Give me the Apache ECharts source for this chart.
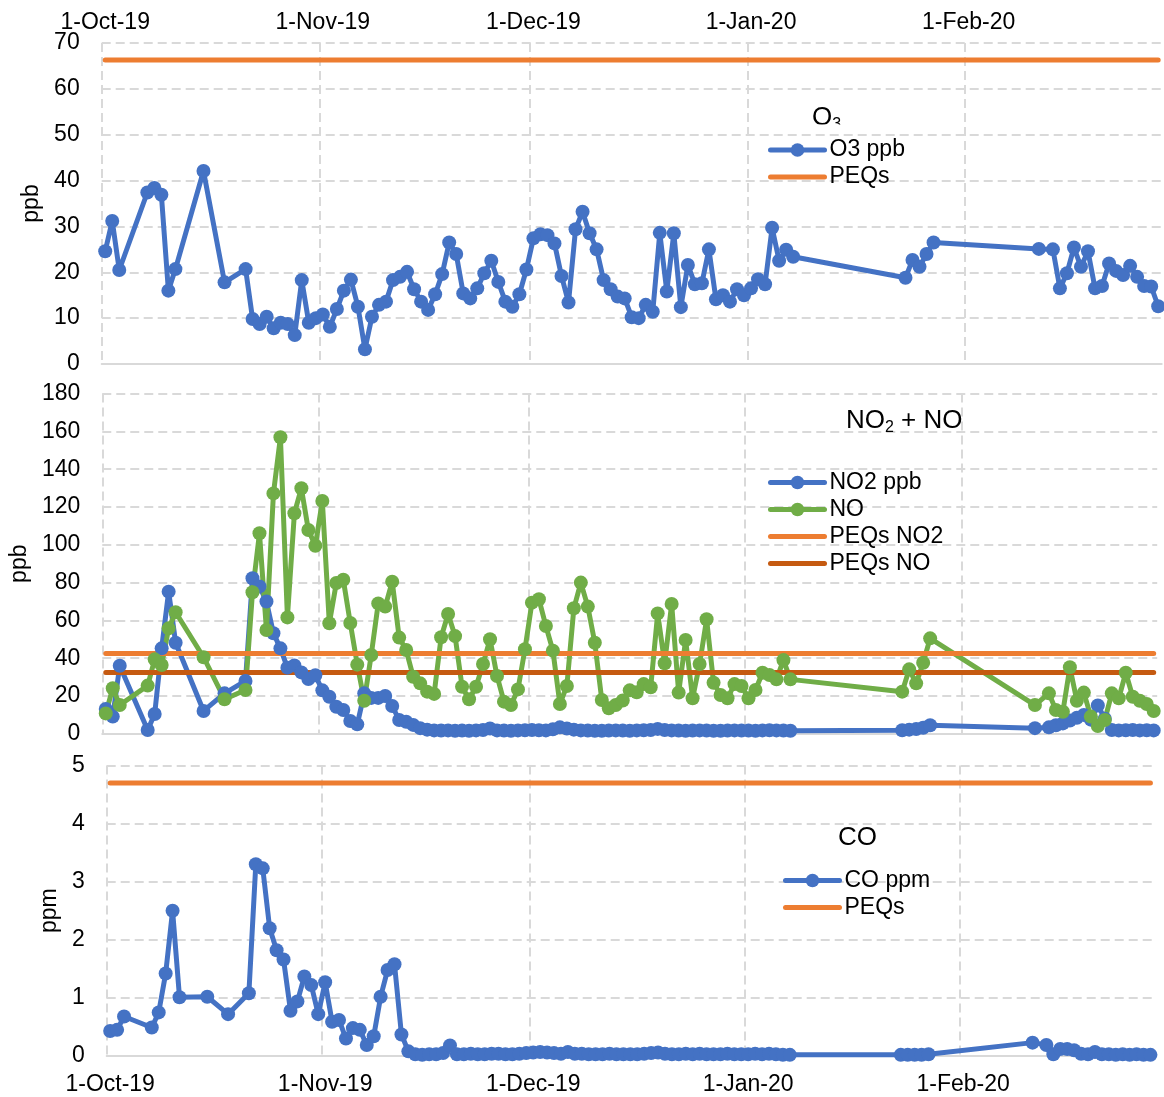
<!DOCTYPE html>
<html>
<head>
<meta charset="utf-8">
<script src="https://cdn.jsdelivr.net/npm/echarts@6/dist/echarts.min.js"></script>
<style>
  html, body { margin: 0; padding: 0; background: #ffffff; }
  #chart { width: 1164px; height: 1097px; }
</style>
</head>
<body>
<div id="chart"></div>
<script>
// Sampling days (daily averages)
const dates = [
  '2019-10-01','2019-10-02','2019-10-03','2019-10-07','2019-10-08','2019-10-09','2019-10-10','2019-10-11','2019-10-15','2019-10-18',
  '2019-10-21','2019-10-22','2019-10-23','2019-10-24','2019-10-25','2019-10-26','2019-10-27','2019-10-28','2019-10-29','2019-10-30','2019-10-31',
  '2019-11-01','2019-11-02','2019-11-03','2019-11-04','2019-11-05','2019-11-06','2019-11-07','2019-11-08','2019-11-09','2019-11-10',
  '2019-11-11','2019-11-12','2019-11-13','2019-11-14','2019-11-15','2019-11-16','2019-11-17','2019-11-18','2019-11-19','2019-11-20',
  '2019-11-21','2019-11-22','2019-11-23','2019-11-24','2019-11-25','2019-11-26','2019-11-27','2019-11-28','2019-11-29','2019-11-30',
  '2019-12-01','2019-12-02','2019-12-03','2019-12-04','2019-12-05','2019-12-06','2019-12-07','2019-12-08','2019-12-09','2019-12-10',
  '2019-12-11','2019-12-12','2019-12-13','2019-12-14','2019-12-15','2019-12-16','2019-12-17','2019-12-18','2019-12-19','2019-12-20',
  '2019-12-21','2019-12-22','2019-12-23','2019-12-24','2019-12-25','2019-12-26','2019-12-27','2019-12-28','2019-12-29','2019-12-30','2019-12-31',
  '2020-01-01','2020-01-02','2020-01-03','2020-01-04','2020-01-05','2020-01-06','2020-01-07',
  '2020-01-23','2020-01-24','2020-01-25','2020-01-26','2020-01-27',
  '2020-02-11','2020-02-13','2020-02-14','2020-02-15','2020-02-16','2020-02-17','2020-02-18','2020-02-19','2020-02-20',
  '2020-02-21','2020-02-22','2020-02-23','2020-02-24','2020-02-25','2020-02-26','2020-02-27','2020-02-28'
];

// O3, ppb
const o3 = [
  24.6, 31.2, 20.5, 37.4, 38.4, 36.9, 16.0, 20.7, 42.1, 17.8,
  20.7, 9.8, 8.7, 10.3, 7.8, 9.0, 8.7, 6.3, 18.3, 9.0, 10.0,
  10.8, 8.1, 12.0, 16.0, 18.4, 12.5, 3.2, 10.3, 12.9, 13.6,
  18.3, 19.0, 20.1, 16.3, 13.6, 11.8, 15.2, 19.6, 26.5, 24.0,
  15.4, 14.3, 16.5, 19.8, 22.5, 17.9, 13.6, 12.5, 15.2, 20.6,
  27.4, 28.3, 28.1, 26.3, 19.2, 13.4, 29.4, 33.2, 28.5, 25.0,
  18.3, 16.3, 14.7, 14.3, 10.2, 10.0, 12.9, 11.4, 28.6, 15.8,
  28.5, 12.4, 21.6, 17.4, 17.6, 25.0, 14.1, 15.0, 13.6, 16.3, 15.0,
  16.5, 18.5, 17.4, 29.7, 22.5, 24.9, 23.4,
  18.8, 22.7, 21.2, 24.0, 26.5,
  25.1, 25.0, 16.5, 19.8, 25.4, 21.2, 24.6, 16.5, 17.0,
  21.9, 20.3, 19.4, 21.4, 19.0, 17.0, 16.9, 12.6
];

// NO2, ppb
const no2 = [
  13.1, 9.1, 36.0, 2.0, 10.5, 45.2, 75.2, 48.2, 12.1, 21.4,
  28.0, 82.3, 78.0, 70.0, 53.2, 45.2, 35.0, 36.2, 32.5, 29.0, 31.0,
  23.0, 19.6, 14.3, 12.6, 6.8, 5.0, 21.4, 19.0, 19.0, 20.0,
  14.7, 7.3, 6.4, 4.7, 3.0, 2.2, 1.8, 1.7, 1.8, 1.6,
  1.7, 1.6, 1.8, 2.0, 2.8, 1.8, 1.7, 1.6, 1.8, 1.9,
  2.0, 1.9, 1.8, 2.4, 3.4, 2.8, 2.2, 1.8, 1.7, 1.6,
  1.6, 1.7, 1.8, 1.7, 1.6, 1.8, 1.9, 2.0, 2.6, 2.0,
  1.8, 1.7, 1.6, 1.7, 1.8, 1.7, 1.6, 1.6, 1.7, 1.8, 1.7,
  1.7, 1.6, 1.8, 1.9, 1.8, 1.7, 1.6,
  1.9, 2.2, 2.5, 3.2, 4.5,
  3.0, 3.4, 4.5, 5.5, 7.0, 8.5, 10.0, 7.5, 15.0,
  8.0, 2.0, 1.8, 1.9, 2.0, 1.8, 1.9, 1.8
];

// NO, ppb
const no = [
  10.8, 24.1, 15.2, 25.5, 39.4, 36.4, 55.8, 64.3, 40.5, 18.3,
  23.2, 74.9, 106.1, 54.9, 127.2, 156.9, 61.6, 116.7, 129.9, 107.8, 99.5,
  123.2, 58.5, 79.8, 81.5, 58.6, 36.6, 17.5, 41.7, 69.0, 67.3,
  80.5, 50.9, 44.3, 30.2, 26.7, 22.3, 21.1, 51.1, 63.4, 51.7,
  24.9, 18.3, 24.9, 36.9, 50.0, 30.6, 17.0, 15.2, 23.5, 44.7,
  69.4, 71.2, 57.0, 44.0, 15.8, 25.3, 66.4, 80.0, 67.3, 48.2,
  17.9, 13.5, 15.2, 17.6, 23.0, 22.0, 26.3, 24.6, 63.7, 37.3,
  68.7, 21.8, 49.6, 18.8, 36.9, 60.6, 27.0, 20.5, 18.8, 26.3, 25.3,
  18.8, 23.2, 32.3, 31.1, 28.8, 39.0, 28.8,
  22.3, 34.1, 26.7, 37.6, 50.5,
  15.2, 21.4, 12.6, 11.7, 35.2, 17.5, 21.8, 9.1, 4.1,
  7.3, 21.4, 18.8, 32.3, 19.6, 17.5, 15.8, 12.1
];

// CO, ppm
const co = [
  0.43, 0.45, 0.68, 0.49, 0.75, 1.42, 2.50, 1.01, 1.02, 0.72,
  1.08, 3.30, 3.23, 2.20, 1.82, 1.66, 0.78, 0.94, 1.37, 1.22, 0.72,
  1.27, 0.59, 0.62, 0.30, 0.48, 0.45, 0.19, 0.34, 1.02, 1.48,
  1.58, 0.37, 0.08, 0.03, 0.02, 0.03, 0.03, 0.05, 0.18, 0.03,
  0.03, 0.04, 0.03, 0.03, 0.04, 0.04, 0.03, 0.03, 0.04, 0.05,
  0.06, 0.07, 0.06, 0.05, 0.04, 0.07, 0.04, 0.04, 0.03, 0.03,
  0.03, 0.04, 0.03, 0.03, 0.03, 0.03, 0.04, 0.05, 0.06, 0.04,
  0.03, 0.03, 0.04, 0.03, 0.04, 0.03, 0.03, 0.03, 0.04, 0.03, 0.03,
  0.03, 0.04, 0.03, 0.04, 0.03, 0.02, 0.02,
  0.02, 0.02, 0.02, 0.02, 0.03,
  0.23, 0.19, 0.03, 0.12, 0.12, 0.10, 0.04, 0.03, 0.07,
  0.03, 0.03, 0.02, 0.03, 0.02, 0.03, 0.02, 0.02
];

// Air quality standards (PEQs)
const peqO3 = 66.3;
const peqNO2 = 42.5;
const peqNO = 32.5;
const peqCO = 4.7;

// Date axis
const tickDates = ['2019-10-01', '2019-11-01', '2019-12-01', '2020-01-01', '2020-02-01'];
const tickLabels = ['1-Oct-19', '1-Nov-19', '1-Dec-19', '1-Jan-20', '1-Feb-20'];
const axisStart = '2019-10-01';
const axisEnd = '2020-02-29';

// days elapsed since the start of the axis
function dayNum(s) {
  const p = s.split('-').map(Number);
  const a = axisStart.split('-').map(Number);
  return Math.round((Date.UTC(p[0], p[1] - 1, p[2]) - Date.UTC(a[0], a[1] - 1, a[2])) / 86400000);
}
const tickDays = tickDates.map(dayNum);
const labelDays = tickDays.map(d => d + 0.5);
const xMin = dayNum(axisStart);
const xMax = dayNum(axisEnd);

// each daily value sits in the middle of its day
const pts = vals => dates.map((d, i) => [dayNum(d) + 0.5, vals[i]]);
const flat = v => dates.map(d => [dayNum(d) + 0.5, v]);

const BLUE = '#4472C4', GREEN = '#70AD47', ORANGE = '#ED7D31', DARK_ORANGE = '#C55A11';
const GRID_COLOR = '#d9d9d9';
const FONT = "'Liberation Sans', Arial, sans-serif";

const dashed = { show: true, lineStyle: { type: [9, 5], color: GRID_COLOR, width: 2 } };
const labelFmt = v => {
  const i = labelDays.findIndex(t => Math.abs(t - v) < 0.01);
  return i >= 0 ? tickLabels[i] : '';
};

function xAxis(gridIndex, extra) {
  return Object.assign({
    type: 'value', gridIndex, min: xMin, max: xMax,
    axisLine: { show: true, onZero: false, lineStyle: { color: GRID_COLOR, width: 2 } },
    axisTick: { show: false, customValues: tickDays },
    axisLabel: { show: false },
    splitLine: dashed
  }, extra || {});
}

function yAxis(gridIndex, max, interval, name, nameGap) {
  return {
    type: 'value', gridIndex, min: 0, max, interval,
    axisLine: { show: false }, axisTick: { show: false },
    axisLabel: { fontSize: 23, color: '#000', margin: 22, fontFamily: FONT },
    splitLine: Object.assign({ showMinLine: false }, dashed),
    name, nameLocation: 'middle', nameGap,
    nameTextStyle: { fontSize: 23, color: '#000', fontFamily: FONT }
  };
}

const pointSeries = (name, data, color, xi, yi) => ({
  name, type: 'line', xAxisIndex: xi, yAxisIndex: yi, data,
  symbol: 'circle', symbolSize: 14, showSymbol: true,
  color, itemStyle: { color },
  lineStyle: { width: 5, color, cap: 'round', join: 'round' },
  emphasis: { disabled: true }
});
const limitSeries = (name, value, color, xi, yi) => ({
  name, type: 'line', xAxisIndex: xi, yAxisIndex: yi, data: flat(value),
  symbol: 'none', color, itemStyle: { color },
  lineStyle: { width: 5, color, cap: 'round' },
  emphasis: { disabled: true }
});

const legendBase = {
  orient: 'vertical', itemWidth: 54, itemHeight: 17, itemGap: 4, padding: 0,
  lineStyle: { width: 5, cap: 'round' },
  textStyle: { fontSize: 23, color: '#000', fontFamily: FONT }, selectedMode: false
};
const richTitle = {
  a: { fontSize: 26, color: '#000', fontFamily: FONT, fontWeight: 'normal', lineHeight: 30 },
  s: { fontSize: 16, color: '#000', fontFamily: FONT, fontWeight: 'normal', lineHeight: 16, verticalAlign: 'bottom' }
};

const option = {
  animation: false,
  backgroundColor: '#ffffff',
  textStyle: { fontFamily: FONT },
  title: [
    { text: '{a|O}{s|3}', left: 812, top: 103, padding: 0, textStyle: { rich: richTitle } },
    { text: '{a|NO}{s|2}{a| + NO}', left: 846, top: 406, padding: 0, textStyle: { rich: richTitle } },
    { text: '{a|CO}', left: 838, top: 823, padding: 0, textStyle: { rich: richTitle } }
  ],
  legend: [
    Object.assign({ left: 768, top: 138.5, data: [{ name: 'O3 ppb' }, { name: 'PEQs', itemStyle: { opacity: 0 } }] }, legendBase),
    Object.assign({ left: 768, top: 471, data: [{ name: 'NO2 ppb' }, { name: 'NO' },
      { name: 'PEQs NO2', itemStyle: { opacity: 0 } }, { name: 'PEQs NO', itemStyle: { opacity: 0 } }] }, legendBase),
    Object.assign({ left: 783, top: 869, data: [{ name: 'CO ppm' }, { name: 'PEQs', itemStyle: { opacity: 0 } }] }, legendBase)
  ],
  grid: [
    { left: 101.7, top: 43, width: 1060, height: 321 },
    { left: 101.7, top: 393.6, width: 1055.5, height: 340.2 },
    { left: 106.7, top: 765.5, width: 1047.2, height: 290.5 }
  ],
  xAxis: [
    xAxis(0),
    xAxis(0, {
      position: 'top', axisLine: { show: false }, splitLine: { show: false },
      axisLabel: { show: true, customValues: labelDays, formatter: labelFmt, fontSize: 23, color: '#000', margin: 9, fontFamily: FONT }
    }),
    xAxis(1),
    xAxis(2, {
      axisLabel: { show: true, customValues: labelDays, formatter: labelFmt, fontSize: 23, color: '#000', margin: 17, fontFamily: FONT }
    })
  ],
  yAxis: [
    yAxis(0, 70, 10, 'ppb', 53),
    yAxis(1, 180, 20, 'ppb', 65),
    yAxis(2, 5, 1, 'ppm', 41)
  ],
  series: [
    pointSeries('O3 ppb', pts(o3), BLUE, 0, 0),
    limitSeries('PEQs', peqO3, ORANGE, 0, 0),
    pointSeries('NO2 ppb', pts(no2), BLUE, 2, 1),
    pointSeries('NO', pts(no), GREEN, 2, 1),
    limitSeries('PEQs NO2', peqNO2, ORANGE, 2, 1),
    limitSeries('PEQs NO', peqNO, DARK_ORANGE, 2, 1),
    pointSeries('CO ppm', pts(co), BLUE, 3, 2),
    limitSeries('PEQs', peqCO, ORANGE, 3, 2)
  ],
  graphic: [
    // the O3 heading box is shorter than its text, so its lower edge is cut off
    { type: 'rect', shape: { x: 800, y: 124.5, width: 60, height: 9 }, style: { fill: '#ffffff' }, z: 100 }
  ]
};

const chart = echarts.init(document.getElementById('chart'), null, { renderer: 'canvas' });
chart.setOption(option);
</script>
</body>
</html>
